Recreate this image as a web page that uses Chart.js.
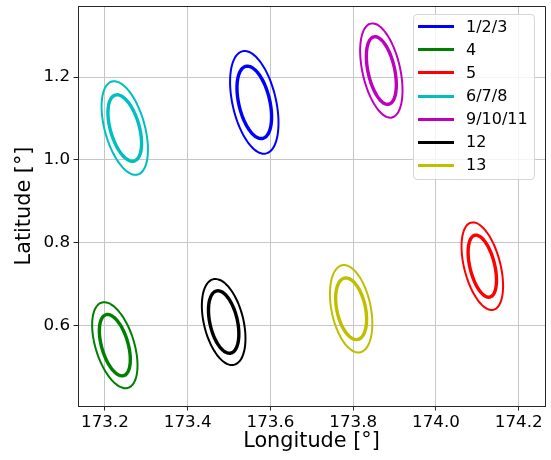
<!DOCTYPE html>
<html><head><meta charset="utf-8">
<script src="https://cdn.jsdelivr.net/npm/chart.js@4.4.0/dist/chart.umd.min.js"></script>
<style>
html,body{margin:0;padding:0;background:#fff;}
#wrap{position:relative;width:551px;height:460px;}
#legend{position:absolute;left:413px;top:14px;width:122px;height:166px;border:1px solid #d6d6d6;border-radius:4px;background:rgba(255,255,255,0.8);font-family:"DejaVu Sans",sans-serif;font-size:16px;color:#000;box-sizing:border-box;}
.row{position:absolute;left:0;height:20px;width:120px;}
.sw{position:absolute;left:4px;top:8.5px;width:36px;height:3px;}
.lb{position:absolute;left:52px;top:0;white-space:nowrap;line-height:20px;}
</style></head><body>
<div id="wrap"><canvas id="c" width="551" height="460"></canvas><div id="legend"></div></div>
<script>
// ---- data ----
const groups    = ['1/2/3', '4', '5', '6/7/8', '9/10/11', '12', '13'];
const colors    = ['#0000ff', '#008000', '#ff0000', '#00bfbf', '#bf00bf', '#000000', '#bfbf00'];
const centerLon = [173.561, 173.224, 174.112, 173.248, 173.868, 173.487, 173.795];
const centerLat = [1.139, 0.552, 0.743, 1.077, 1.216, 0.608, 0.640];
const outerHalfLon = [0.0585, 0.0548, 0.0502, 0.0560, 0.0512, 0.0527, 0.0512];
const outerHalfLat = [0.1241, 0.1040, 0.1059, 0.1132, 0.1139, 0.1040, 0.1057];
const innerHalfLon = [0.0418, 0.0374, 0.0343, 0.0406, 0.0362, 0.0367, 0.0374];
const innerHalfLat = [0.0875, 0.0742, 0.0750, 0.0803, 0.0817, 0.0755, 0.0745];
const correlation  = [-0.40, -0.47, -0.45, -0.46, -0.42, -0.38, -0.34];
const xTicks = [173.2, 173.4, 173.6, 173.8, 174.0, 174.2];
const yTicks = [0.6, 0.8, 1.0, 1.2];
const xRange = [173.135, 174.2635];
const yRange = [0.405, 1.372];

// ellipse outline from centre, half extents and correlation
function ellipse(lon, lat, hx, hy, r) {
  const pts = [], N = 90, k = Math.sqrt(1 - r * r);
  for (let i = 0; i <= N; i++) {
    const t = 2 * Math.PI * i / N;
    pts.push({x: lon + hx * Math.cos(t), y: lat + hy * (r * Math.cos(t) + k * Math.sin(t))});
  }
  return pts;
}

const lineStyle = {showLine: true, pointRadius: 0, fill: false, tension: 0.2, borderJoinStyle: 'round', borderCapStyle: 'round'};
const datasets = [];
groups.forEach((g, i) => {
  datasets.push(Object.assign({label: g, data: ellipse(centerLon[i], centerLat[i], innerHalfLon[i], innerHalfLat[i], correlation[i]),
    borderColor: colors[i], borderWidth: 3.4}, lineStyle));
  datasets.push(Object.assign({label: g + ' outer', data: ellipse(centerLon[i], centerLat[i], outerHalfLon[i], outerHalfLat[i], correlation[i]),
    borderColor: colors[i], borderWidth: 2}, lineStyle));
});

// legend
const leg = document.getElementById('legend');
groups.forEach((g, i) => {
  const row = document.createElement('div');
  row.className = 'row';
  row.style.top = (1.7 + 23.1 * i) + 'px';
  row.innerHTML = '<div class="sw" style="background:' + colors[i] + '"></div><div class="lb">' + g + '</div>';
  leg.appendChild(row);
});

const frame = {id: 'frame', afterDraw(c) {
  const a = c.chartArea, x = c.ctx;
  const al = p => Math.round(p - 0.5) + 0.5;
  x.save(); x.strokeStyle = '#262626'; x.lineWidth = 1;
  x.beginPath();
  x.moveTo(al(a.left), al(a.top)); x.lineTo(al(a.right), al(a.top)); x.lineTo(al(a.right), al(a.bottom));
  x.stroke(); x.restore();
}};

const noPad = s => { s.paddingTop = 0; s.paddingBottom = 0; s.paddingLeft = 0; s.paddingRight = 0; };
const tickFont = {family: 'DejaVu Sans', size: 16.7};
const titleFont = {family: 'DejaVu Sans', size: 20.8};
new Chart(document.getElementById('c'), {
  type: 'scatter',
  data: {datasets},
  options: {
    responsive: false, animation: false, devicePixelRatio: 1,
    layout: {padding: {left: 0, right: 6, top: 6, bottom: 0}},
    plugins: {legend: {display: false}, tooltip: {enabled: false}},
    scales: {
      x: {
        type: 'linear', min: xRange[0], max: xRange[1],
        afterBuildTicks: s => { s.ticks = xTicks.map(v => ({value: v})); },
        afterFit: s => { s.height = 54; noPad(s); },
        ticks: {autoSkip: false, maxRotation: 0, color: '#000', font: tickFont, padding: 2, callback: v => Number(v).toFixed(1)},
        grid: {color: '#c6c6c6', lineWidth: 1, tickLength: 4.5, tickColor: '#262626', tickWidth: 1},
        border: {display: true, color: '#262626', width: 1},
        title: {display: true, text: 'Longitude [°]', color: '#000', font: titleFont, padding: {top: 0, bottom: 5.5}}
      },
      y: {
        type: 'linear', min: yRange[0], max: yRange[1],
        afterBuildTicks: s => { s.ticks = yTicks.map(v => ({value: v})); },
        afterFit: s => { s.width = 78; noPad(s); },
        ticks: {autoSkip: false, color: '#000', font: tickFont, padding: 3.5, callback: v => Number(v).toFixed(1)},
        grid: {color: '#c6c6c6', lineWidth: 1, tickLength: 4.5, tickColor: '#262626', tickWidth: 1},
        border: {display: true, color: '#262626', width: 1},
        title: {display: true, text: 'Latitude [°]', color: '#000', font: titleFont, padding: {top: 12.5, bottom: 0}}
      }
    }
  },
  plugins: [frame]
});
</script>
</body></html>
